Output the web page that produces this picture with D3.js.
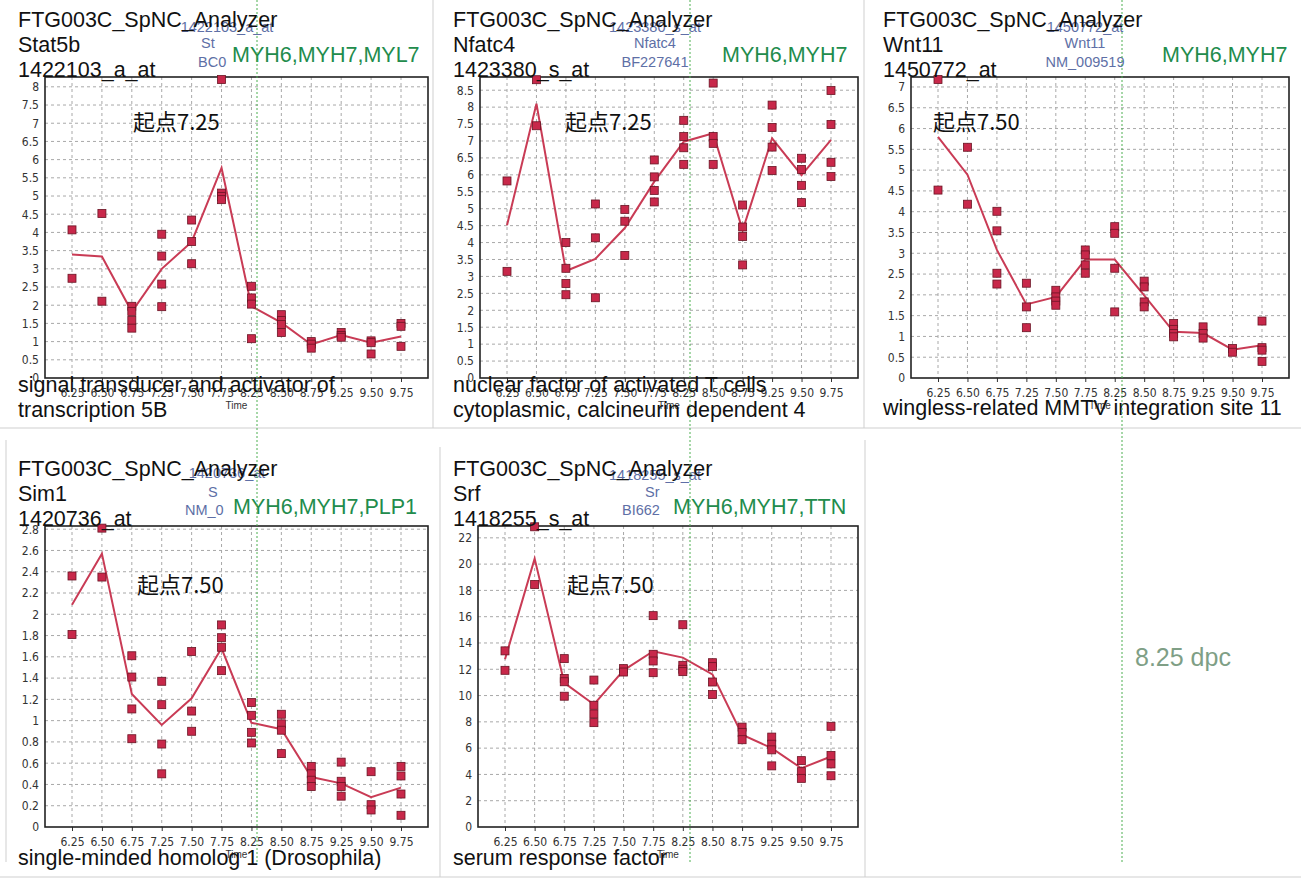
<!DOCTYPE html>
<html>
<head>
<meta charset="utf-8">
<script src="https://cdn.jsdelivr.net/npm/d3@7"></script>
<style>
body { margin: 0; background: #fff; }
svg text { font-family: "Liberation Sans", Arial, sans-serif; }
.tk text { font-family: "Liberation Sans Narrow", "DejaVu Sans Condensed", sans-serif; font-size: 12px; fill: #333; }
</style>
</head>
<body>
<div id="chart"></div>
<script>
// time points (dpc)
var times = ["6.25", "6.50", "6.75", "7.25", "7.50", "7.75", "8.25", "8.50", "8.75", "9.25", "9.50", "9.75"];

// Stat5b
var stat5bPoints = [[4.07, 2.74], [4.52, 2.11], [1.97, 1.83, 1.58, 1.37], [3.95, 3.35, 2.58, 1.96],
    [4.34, 3.75, 3.14], [8.2, 5.08, 4.99, 4.9], [2.52, 2.2, 2.03, 1.08], [1.74, 1.58, 1.47, 1.25],
    [1.0, 0.93, 0.82], [1.25, 1.17, 1.12], [1.02, 0.97, 0.66], [1.5, 1.42, 0.87]];
var stat5bMean = [3.39, 3.34, 1.82, 3.0, 3.74, 5.77, 1.97, 1.52, 0.92, 1.18, 0.97, 1.14];
var stat5bTicks = [0, 0.5, 1, 1.5, 2, 2.5, 3, 3.5, 4, 4.5, 5, 5.5, 6, 6.5, 7, 7.5, 8];

// Nfatc4
var nfatc4Points = [[5.82, 3.15], [8.81, 7.45], [4.0, 3.24, 2.79, 2.46], [5.14, 4.14, 2.37],
    [4.98, 4.63, 3.62], [6.44, 5.94, 5.54, 5.2], [7.61, 7.13, 6.8, 6.31], [8.71, 7.13, 6.93, 6.31],
    [5.11, 4.46, 4.18, 3.34], [8.06, 7.4, 6.82, 6.13], [6.49, 6.16, 5.69, 5.18], [8.49, 7.49, 6.37, 5.95]];
var nfatc4Mean = [4.51, 8.1, 3.16, 3.52, 4.43, 5.8, 6.98, 7.23, 4.36, 7.08, 5.99, 7.03];
var nfatc4Ticks = [0, 0.5, 1, 1.5, 2, 2.5, 3, 3.5, 4, 4.5, 5, 5.5, 6, 6.5, 7, 7.5, 8, 8.5];

// Wnt11
var wnt11Points = [[7.18, 4.52], [5.55, 4.18], [4.01, 3.54, 2.52, 2.26], [2.28, 1.71, 1.21],
    [2.11, 1.95, 1.85, 1.75], [3.08, 2.96, 2.72, 2.52], [3.64, 3.48, 2.64, 1.59], [2.33, 2.19, 1.83, 1.71],
    [1.31, 1.17, 1.07, 0.99], [1.23, 1.07, 0.96], [0.71, 0.62], [1.37, 0.73, 0.67, 0.4]];
var wnt11Mean = [5.8, 4.89, 3.08, 1.77, 1.95, 2.85, 2.85, 1.99, 1.11, 1.08, 0.68, 0.79];
var wnt11Ticks = [0, 0.5, 1, 1.5, 2, 2.5, 3, 3.5, 4, 4.5, 5, 5.5, 6, 6.5, 7];

// Sim1
var sim1Points = [[2.36, 1.81], [2.81, 2.35], [1.61, 1.41, 1.11, 0.83], [1.37, 1.15, 0.78, 0.5],
    [1.65, 1.09, 0.9], [1.9, 1.78, 1.69, 1.47], [1.17, 1.05, 0.89, 0.79], [1.06, 0.97, 0.91, 0.69],
    [0.57, 0.5, 0.44, 0.38], [0.61, 0.43, 0.38, 0.29], [0.52, 0.21, 0.16], [0.57, 0.48, 0.31, 0.11]];
var sim1Mean = [2.09, 2.57, 1.25, 0.96, 1.21, 1.68, 0.98, 0.92, 0.47, 0.41, 0.28, 0.37];
var sim1Ticks = [0, 0.2, 0.4, 0.6, 0.8, 1, 1.2, 1.4, 1.6, 1.8, 2, 2.2, 2.4, 2.6, 2.8];

// Srf
var srfPoints = [[13.4, 11.92], [22.84, 18.45], [12.81, 11.3, 11.05, 9.95], [11.18, 9.26, 8.6, 7.94],
    [12.05, 11.79], [16.08, 13.14, 12.63, 11.74], [15.39, 12.3, 12.0, 11.82], [12.5, 12.2, 11.03, 10.08],
    [7.6, 7.2, 6.64], [6.84, 6.3, 5.87, 4.65], [5.05, 4.21, 3.7], [7.66, 5.44, 4.8, 3.9]];
var srfMean = [12.76, 20.42, 10.97, 9.32, 11.92, 13.37, 12.89, 11.61, 7.02, 6.0, 4.47, 5.36];
var srfTicks = [0, 2, 4, 6, 8, 10, 12, 14, 16, 18, 20, 22];

var panels = [
    { ox: 0, oy: 0, left: 45, right: 428, ymax: 8.27, pts: stat5bPoints, mean: stat5bMean, ticks: stat5bTicks,
      head: ["FTG003C_SpNC_Analyzer", "Stat5b", "1422103_a_at"],
      probe: [["1422103_a_at", 227, 32, "middle"], ["St", 201, 48, "start"], ["BC0", 198, 67, "start"]],
      markers: "MYH6,MYH7,MYL7", mx: 232, start: "起点7.25", sx: 133,
      desc: ["signal transducer and activator of", "transcription 5B"], dy: 392 },
    { ox: 435, oy: 0, left: 480, right: 858, ymax: 8.89, pts: nfatc4Points, mean: nfatc4Mean, ticks: nfatc4Ticks,
      head: ["FTG003C_SpNC_Analyzer", "Nfatc4", "1423380_s_at"],
      probe: [["1423380_s_at", 655, 32, "middle"], ["Nfatc4", 655, 48, "middle"], ["BF227641", 655, 67, "middle"]],
      markers: "MYH6,MYH7", mx: 722, start: "起点7.25", sx: 565,
      desc: ["nuclear factor of activated T cells", "cytoplasmic, calcineurin dependent 4"], dy: 392 },
    { ox: 865, oy: 0, left: 911, right: 1289, ymax: 7.24, pts: wnt11Points, mean: wnt11Mean, ticks: wnt11Ticks,
      head: ["FTG003C_SpNC_Analyzer", "Wnt11", "1450772_at"],
      probe: [["1450772_at", 1085, 32, "middle"], ["Wnt11", 1085, 48, "middle"], ["NM_009519", 1085, 67, "middle"]],
      markers: "MYH6,MYH7", mx: 1162, start: "起点7.50", sx: 933,
      desc: ["wingless-related MMTV integration site 11"], dy: 415 },
    { ox: 0, oy: 449, left: 45, right: 428, ymax: 2.83, pts: sim1Points, mean: sim1Mean, ticks: sim1Ticks,
      head: ["FTG003C_SpNC_Analyzer", "Sim1", "1420736_at"],
      probe: [["1420736_at", 227, 478, "middle"], ["S", 208, 497, "start"], ["NM_0", 185, 515, "start"]],
      markers: "MYH6,MYH7,PLP1", mx: 233, start: "起点7.50", sx: 137,
      desc: ["single-minded homolog 1 (Drosophila)"], dy: 865 },
    { ox: 435, oy: 449, left: 478, right: 858, ymax: 22.9, pts: srfPoints, mean: srfMean, ticks: srfTicks,
      head: ["FTG003C_SpNC_Analyzer", "Srf", "1418255_s_at"],
      probe: [["1418255_s_at", 655, 480, "middle"], ["Sr", 645, 497, "start"], ["BI662", 622, 515, "start"]],
      markers: "MYH6,MYH7,TTN", mx: 673, start: "起点7.50", sx: 567,
      desc: ["serum response factor"], dy: 865 }
];

var w = 1301, h = 892;
var svg = d3.select("#chart").append("svg").attr("width", w).attr("height", h);

// panel separators
var seps = [[433, 0, 433, 428], [864, 0, 864, 428], [0, 428, 1301, 428], [6, 440, 6, 862],
            [440, 447, 440, 877], [865, 440, 865, 877], [0, 877, 1301, 877]];
svg.selectAll(".sep").data(seps).enter().append("line")
    .attr("x1", function(d) { return d[0]; }).attr("y1", function(d) { return d[1]; })
    .attr("x2", function(d) { return d[2]; }).attr("y2", function(d) { return d[3]; })
    .attr("stroke", "#cfcfcf").attr("stroke-width", 1);

function drawPanel(p) {
    var top = p.oy + 77, bottom = p.oy + 378;
    var g = svg.append("g");
    var x = d3.scalePoint().domain(times).range([p.left + 27, p.right - 27]);
    var y = d3.scaleLinear().domain([0, p.ymax]).range([bottom, top]);

    // grid
    g.selectAll(".hg").data(p.ticks.slice(1)).enter().append("line")
        .attr("x1", p.left).attr("x2", p.right)
        .attr("y1", function(d) { return y(d); }).attr("y2", function(d) { return y(d); })
        .attr("stroke", "#a8a8a8").attr("stroke-dasharray", "3,3");
    g.selectAll(".vg").data(times).enter().append("line")
        .attr("x1", function(d) { return x(d); }).attr("x2", function(d) { return x(d); })
        .attr("y1", top).attr("y2", bottom)
        .attr("stroke", "#a8a8a8").attr("stroke-dasharray", "3,3");

    // axes
    var ya = g.append("g").attr("class", "tk").attr("transform", "translate(" + p.left + ",0)")
        .call(d3.axisLeft(y).tickValues(p.ticks).tickSize(0).tickPadding(6).tickFormat(function(d) { return String(+d.toFixed(1)); }));
    ya.select(".domain").remove();
    var xa = g.append("g").attr("class", "tk").attr("transform", "translate(0," + bottom + ")")
        .call(d3.axisBottom(x).tickSize(4).tickPadding(6));
    xa.select(".domain").remove();
    xa.selectAll("line").attr("stroke", "#333");

    g.append("rect").attr("x", p.left).attr("y", top).attr("width", p.right - p.left).attr("height", bottom - top)
        .attr("fill", "none").attr("stroke", "#222").attr("stroke-width", 1.6);

    g.append("text").attr("x", (p.left + p.right) / 2).attr("y", p.oy + 409).attr("text-anchor", "middle")
        .attr("font-size", 10).attr("fill", "#333").text("Time");

    // mean line
    var line = d3.line().x(function(d, i) { return x(times[i]); }).y(function(d) { return y(d); });
    g.append("path").datum(p.mean).attr("d", line).attr("fill", "none")
        .attr("stroke", "#c93b55").attr("stroke-width", 2);

    // replicate points
    var flat = [];
    p.pts.forEach(function(arr, i) { arr.forEach(function(v) { flat.push({ t: times[i], v: v }); }); });
    g.selectAll(".pt").data(flat).enter().append("rect")
        .attr("x", function(d) { return x(d.t) - 4; }).attr("y", function(d) { return y(d.v) - 4; })
        .attr("width", 8).attr("height", 8)
        .attr("fill", "#c8284a").attr("stroke", "#6a1424").attr("stroke-width", 0.8);

    // probe labels (blue)
    g.selectAll(".pr").data(p.probe).enter().append("text")
        .attr("x", function(d) { return d[1]; }).attr("y", function(d) { return d[2]; })
        .attr("text-anchor", function(d) { return d[3]; })
        .attr("font-size", 14.5).attr("fill", "#5e6fa6").text(function(d) { return d[0]; });

    // header
    g.selectAll(".hd").data(p.head).enter().append("text")
        .attr("x", p.ox + 18).attr("y", function(d, i) { return p.oy + 27 + i * 25; })
        .attr("font-size", 21.5).attr("fill", "#111").text(function(d) { return d; });

    g.append("text").attr("x", p.mx).attr("y", p.oy + (p.oy ? 65 : 62))
        .attr("font-size", 21.5).attr("fill", "#228c4c").text(p.markers);

    g.append("text").attr("x", p.sx).attr("y", p.oy + (p.oy ? 144 : 130))
        .attr("font-size", 22).attr("fill", "#111")
        .style("font-family", "'Noto Sans CJK JP', 'Noto Sans CJK SC', sans-serif").text(p.start);

    g.selectAll(".ds").data(p.desc).enter().append("text")
        .attr("x", p.ox + 18).attr("y", function(d, i) { return p.dy + i * 25; })
        .attr("font-size", 21.5).attr("fill", "#111").text(function(d) { return d; });
}

panels.forEach(drawPanel);

// 8.25 dpc markers
svg.selectAll(".dpc").data([257, 690, 1122]).enter().append("line")
    .attr("x1", function(d) { return d; }).attr("x2", function(d) { return d; })
    .attr("y1", 0).attr("y2", 862)
    .attr("stroke", "#4caf50").attr("stroke-width", 1).attr("stroke-dasharray", "2,2");
svg.append("text").attr("x", 1135).attr("y", 666).attr("font-size", 25).attr("fill", "#7f9f86").text("8.25 dpc");
</script>
</body>
</html>
